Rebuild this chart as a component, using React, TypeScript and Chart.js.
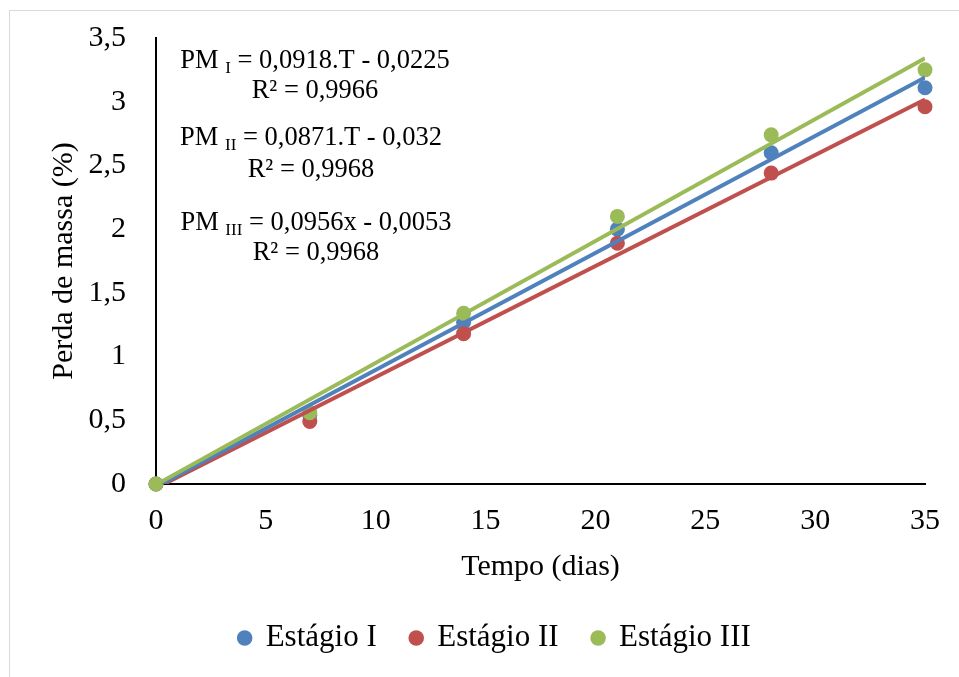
import React, { useEffect, useRef } from 'react';
import { Chart, registerables } from 'chart.js';

Chart.register(...registerables);

// ---------- data ----------
const days = [0, 7, 14, 21, 28, 35];
const stageI = [0, 0.54, 1.27, 2.0, 2.6, 3.11];
const stageII = [0, 0.49, 1.18, 1.89, 2.44, 2.96];
const stageIII = [0, 0.56, 1.34, 2.1, 2.74, 3.25];

const seriesNames = ['Estágio I', 'Estágio II', 'Estágio III'];
const seriesColors = ['#4F81BD', '#C0504D', '#9BBB59'];

// linear trendline end points (x = 0 and x = 35)
const trendX = [0, 35];
const trendI = [-0.0225, 3.1905];
const trendII = [-0.032, 3.0165];
const trendIII = [-0.0053, 3.3407];

const yTickLabels = ['0', '0,5', '1', '1,5', '2', '2,5', '3', '3,5'];
const xTickLabels = ['0', '5', '10', '15', '20', '25', '30', '35'];

const eqSubs = ['I', 'II', 'III'];
const eqBodies = [' = 0,0918.T - 0,0225', ' = 0,0871.T - 0,032', ' = 0,0956x - 0,0053'];
const r2Texts = ['R² = 0,9966', 'R² = 0,9968', 'R² = 0,9968'];

const FONT = "'Liberation Serif', 'Times New Roman', serif";

const eqPlugin = {
  id: 'equations',
  afterDraw(chart: any) {
    const { ctx, chartArea } = chart;
    const rows = [
      [159, 30, 60],
      [155, 107, 139],
      [160, 192, 222],
    ];
    const baseFont = `26.5px ${FONT}`;
    const subFont = `17px ${FONT}`;
    ctx.save();
    ctx.fillStyle = '#000';
    ctx.textBaseline = 'alphabetic';
    eqSubs.forEach((sub, i) => {
      const cx = chartArea.left + rows[i][0];
      const y1 = chartArea.top + rows[i][1];
      const y2 = chartArea.top + rows[i][2];
      ctx.font = baseFont;
      const wPre = ctx.measureText('PM ').width;
      const wPost = ctx.measureText(eqBodies[i]).width;
      ctx.font = subFont;
      const wSub = ctx.measureText(sub).width;
      let x = cx - (wPre + wSub + wPost) / 2;
      ctx.textAlign = 'left';
      ctx.font = baseFont;
      ctx.fillText('PM ', x, y1);
      x += wPre;
      ctx.font = subFont;
      ctx.fillText(sub, x, y1 + 5);
      x += wSub;
      ctx.font = baseFont;
      ctx.fillText(eqBodies[i], x, y1);
      ctx.textAlign = 'center';
      ctx.fillText(r2Texts[i], cx, y2);
    });
    ctx.restore();
  },
};

export default function App() {
  const ref = useRef<HTMLCanvasElement | null>(null);

  useEffect(() => {
    if (!ref.current) return;
    const pts = (ys: number[]) => days.map((d, i) => ({ x: d, y: ys[i] }));
    const tpts = (ys: number[]) => trendX.map((d, i) => ({ x: d, y: ys[i] }));
    const pointSeries = [stageI, stageII, stageIII];
    const trendSeries = [trendI, trendII, trendIII];
    const pointOrder = [6, 5, 4];
    const trendOrder = [2, 3, 1];

    const datasets: any[] = [];
    pointSeries.forEach((s, i) => {
      datasets.push({
        label: seriesNames[i],
        data: pts(s),
        backgroundColor: seriesColors[i],
        borderColor: seriesColors[i],
        borderWidth: 0,
        pointRadius: 7.5,
        pointStyle: 'circle',
        showLine: false,
        order: pointOrder[i],
        clip: false,
      });
    });
    trendSeries.forEach((s, i) => {
      datasets.push({
        label: 'trend' + i,
        data: tpts(s),
        borderColor: seriesColors[i],
        backgroundColor: seriesColors[i],
        borderWidth: 4,
        pointRadius: 0,
        showLine: true,
        order: trendOrder[i],
      });
    });

    const chart = new Chart(ref.current, {
      type: 'scatter',
      data: { datasets },
      plugins: [eqPlugin],
      options: {
        animation: false,
        responsive: false,
        devicePixelRatio: 1,
        events: [],
        layout: { padding: { left: 31, right: 0, top: 38, bottom: 13.5 } },
        font: { family: FONT },
        plugins: {
          tooltip: { enabled: false },
          legend: {
            position: 'bottom',
            labels: {
              usePointStyle: true,
              boxWidth: 11,
              boxHeight: 11,
              padding: 34,
              color: '#000',
              font: { family: FONT, size: 31 },
              filter: (item: any) => item.datasetIndex < 3,
              sort: (a: any, b: any) => a.datasetIndex - b.datasetIndex,
            },
          },
        },
        scales: {
          x: {
            type: 'linear',
            min: 0,
            max: 35,
            grid: { display: false, drawTicks: false },
            border: { display: true, color: '#000', width: 2 },
            ticks: {
              stepSize: 5,
              padding: 19,
              color: '#000',
              font: { family: FONT, size: 30 },
              callback: (_v: any, i: number) => xTickLabels[i],
            },
            title: {
              display: true,
              text: 'Tempo (dias)',
              color: '#000',
              font: { family: FONT, size: 30 },
              padding: { top: 0, bottom: 3.5 },
            },
            afterFit: (s: any) => {
              s.height = 104.5;
              s.paddingLeft = 0;
              s.paddingRight = 0;
            },
          },
          y: {
            type: 'linear',
            min: 0,
            max: 3.5,
            grid: { display: false, drawTicks: false },
            border: { display: true, color: '#000', width: 2 },
            ticks: {
              stepSize: 0.5,
              padding: 30,
              color: '#000',
              font: { family: FONT, size: 30 },
              callback: (_v: any, i: number) => yTickLabels[i],
            },
            title: {
              display: true,
              text: 'Perda de massa (%)',
              color: '#000',
              font: { family: FONT, size: 30 },
              padding: { top: 15.4, bottom: 0 },
            },
            afterFit: (s: any) => {
              s.width = 125;
              s.paddingTop = 0;
              s.paddingBottom = 0;
            },
          },
          y2: {
            type: 'linear',
            position: 'right',
            display: true,
            grid: { display: false, drawTicks: false },
            border: { display: false },
            ticks: { display: false },
            afterFit: (s: any) => {
              s.width = 34;
              s.paddingTop = 0;
              s.paddingBottom = 0;
            },
          },
        },
      } as any,
    });
    return () => chart.destroy();
  }, []);

  return (
    <div
      style={{
        position: 'fixed',
        left: 0,
        top: 0,
        width: 959,
        height: 677,
        overflow: 'hidden',
        background: '#fff',
      }}
    >
      <div
        style={{
          position: 'absolute',
          left: 9,
          top: 10,
          width: 2000,
          height: 2000,
          border: '1px solid #d9d9d9',
        }}
      />
      <canvas
        ref={ref}
        width={959}
        height={677}
        style={{ position: 'absolute', left: 0, top: 0, width: 959, height: 677 }}
      />
    </div>
  );
}
